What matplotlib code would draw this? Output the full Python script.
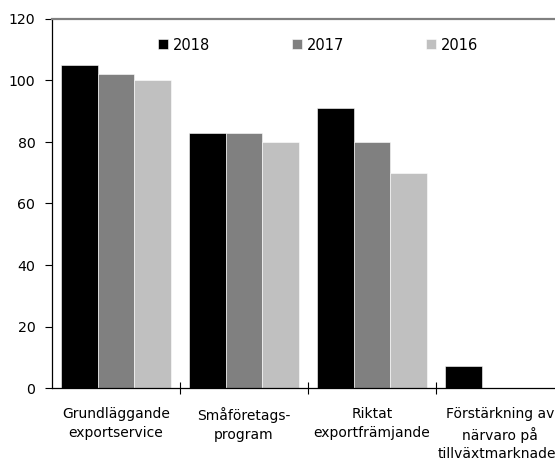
import numpy as np
import matplotlib
matplotlib.use("Agg")
import matplotlib.pyplot as plt
from matplotlib.ticker import FixedLocator

plt.rcParams['font.family'] = ['Liberation Sans Narrow', 'DejaVu Sans Condensed', 'DejaVu Sans']
plt.rcParams['font.size'] = 10.2

# data
kategorier = ["Grundläggande\nexportservice", "Småföretags-\nprogram",
              "Riktat\nexportfrämjande", "Förstärkning av\nnärvaro på\ntillväxtmarknader"]
ar = ["2018", "2017", "2016"]
v2018 = [105, 83, 91, 7]
v2017 = [102, 83, 80, 0]
v2016 = [100, 80, 70, 0]
farger = ["#000000", "#808080", "#c0c0c0"]

fig = plt.figure(figsize=(5.55, 4.61), dpi=100)
ax = fig.add_axes([52 / 555, 1 - 388 / 461, 512 / 555, 369 / 461])

x = np.arange(len(kategorier))
w = 0.286
for i, (serie, namn) in enumerate(zip([v2018, v2017, v2016], ar)):
    ax.bar(x + (i - 1) * w, serie, width=w, color=farger[i], label=namn,
           edgecolor="white", linewidth=0.4)

ax.set_xlim(-0.5, 3.5)
ax.set_ylim(0, 120)
ax.set_yticks(range(0, 121, 20))
ax.set_xticks(x)
ax.set_xticklabels(kategorier, linespacing=1.4, fontsize=10)
ax.xaxis.set_minor_locator(FixedLocator([0.5, 1.5, 2.5]))
ax.tick_params(axis='x', which='major', length=0, pad=14)
ax.tick_params(axis='x', which='minor', length=8, direction='inout', width=0.8)
ax.tick_params(axis='y', length=5, width=0.8, pad=7)

ax.spines['right'].set_visible(False)
ax.spines['top'].set_color("#808080")
ax.spines['top'].set_linewidth(1.6)
ax.spines['left'].set_linewidth(0.9)
ax.spines['bottom'].set_linewidth(0.9)

fig.legend(loc='center', bbox_to_anchor=(318 / 555, 1 - 45 / 461), ncol=3,
           frameon=False, handlelength=0.68, handleheight=0.68, handletextpad=0.35,
           columnspacing=5.6, fontsize=10.5)

fig.savefig("out.png", dpi=100)
